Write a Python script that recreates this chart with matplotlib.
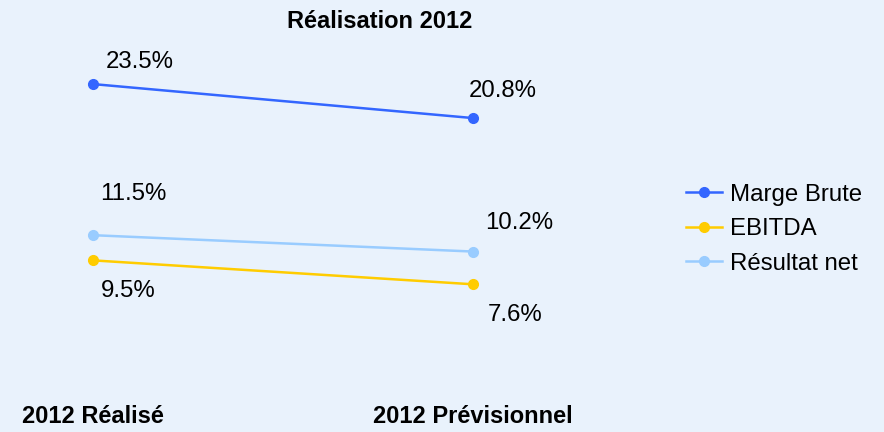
import matplotlib
matplotlib.use("Agg")
import matplotlib.pyplot as plt

plt.rcParams['font.family'] = ['Liberation Sans', 'DejaVu Sans']

# données
periodes = ["2012 Réalisé", "2012 Prévisionnel"]
marge_brute = [23.5, 20.8]
ebitda = [9.5, 7.6]
resultat_net = [11.5, 10.2]

series = [
    ("Marge Brute", marge_brute, "#3366FF"),
    ("EBITDA", ebitda, "#FFCC00"),
    ("Résultat net", resultat_net, "#99CCFF"),
]

# décalage des étiquettes (pixels) : gauche puis droite
decalages = {
    "Marge Brute": [(13, 22), (-4, 27)],
    "EBITDA": [(8, -31), (15, -31)],
    "Résultat net": [(7, 41), (12, 29)],
}

fond = "#E9F2FC"
fig = plt.figure(figsize=(8.84, 4.32), dpi=100, facecolor=fond)
ax = fig.add_axes([17 / 884, 52 / 432, 532 / 884, 340 / 432])
ax.set_facecolor(fond)

x = list(range(len(periodes)))
for nom, vals, couleur in series:
    ax.plot(x, vals, color=couleur, lw=1.8, marker="o", ms=7, label=nom)
    for i, v in enumerate(vals):
        dx, dy = decalages[nom][i]
        ax.annotate(f"{v:.1f}%", (x[i], v), xytext=(dx, dy),
                    textcoords="offset pixels", ha="left", va="center",
                    fontsize=17.3, color="black")

ax.set_xlim(-0.2, 1.2)
ax.set_ylim(0, 27)
ax.set_xticks(x)
ax.set_xticklabels(periodes, fontsize=17, fontweight="bold")
ax.tick_params(axis="x", length=0, pad=18)
ax.set_yticks([])
for s in ax.spines.values():
    s.set_visible(False)

fig.text(380 / 884, 1 - 22 / 432, "Réalisation 2012", ha="center", va="center",
         fontsize=17, fontweight="bold")

fig.legend(loc="upper left", bbox_to_anchor=(676 / 884, 1 - 174 / 432),
           frameon=False, fontsize=17.3, handlelength=1.5, handletextpad=0.35,
           labelspacing=0.52, borderaxespad=0)

fig.savefig("out.png", dpi=100, facecolor=fond)
